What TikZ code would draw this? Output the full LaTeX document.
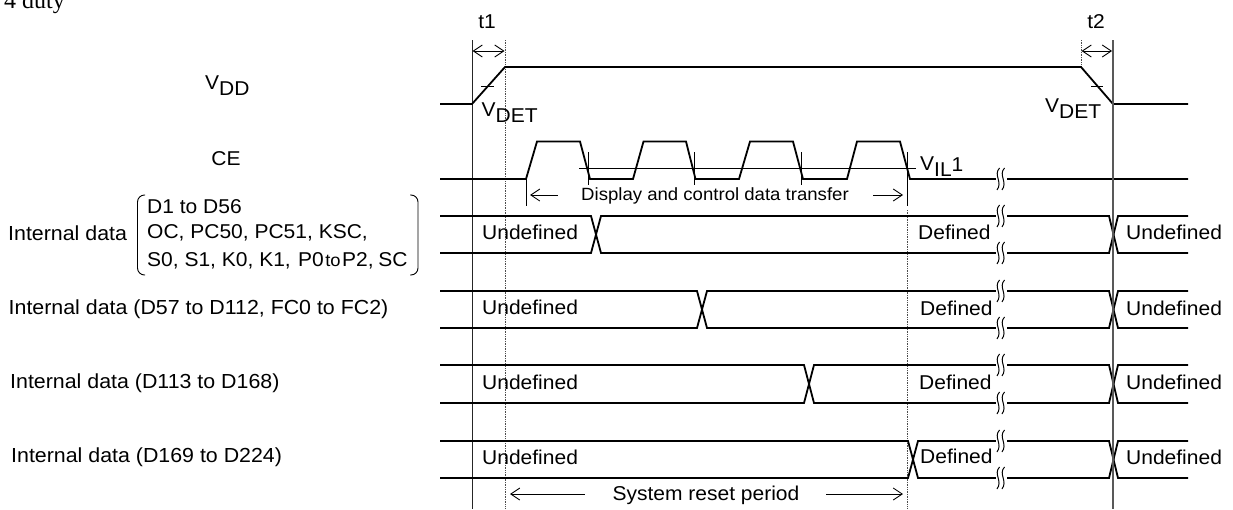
\documentclass[tikz,border=0pt]{standalone}
\usepackage{fontspec}
\setmainfont{Liberation Sans}[FakeStretch=1.05]
\newfontfamily\timesfont{Liberation Serif}
\usetikzlibrary{arrows.meta}
\tikzset{
  x=1pt,y=-1pt,
  wave/.style={line width=1.8pt,black},
  thinline/.style={line width=0.9pt,black},
  guide/.style={line width=1pt,black!85},
  guidebold/.style={line width=1.9pt,black!65},
  dots/.style={line width=0.7pt,black!70,densely dotted},
  dim/.style={line width=0.9pt,black,{Straight Barb[length=9pt,width=12pt]}-{Straight Barb[length=9pt,width=12pt]}},
  darrL/.style={line width=0.9pt,black,{Straight Barb[length=9pt,width=12pt]}-},
  darrR/.style={line width=0.9pt,black,-{Straight Barb[length=9pt,width=12pt]}},
  txt/.style={inner sep=0pt,font=\fontsize{20}{22}\selectfont},
  txtW/.style={txt,anchor=west},
  rowlabel/.style={inner sep=0pt,anchor=west,font=\fontsize{20.35}{22}\selectfont},
  small/.style={inner sep=0pt,font=\fontsize{17.7}{20}\selectfont},
}
\newcommand{\brk}[2]{%
  \fill[white] (#1-2,#2-3) rectangle (#1+8.5,#2+3);
  \draw[line width=1pt] (#1+1.5,#2-11) .. controls (#1-5,#2-4) and (#1+5,#2+3) .. (#1-1,#2+11);
  \draw[line width=1pt] (#1+6.5,#2-11) .. controls (#1,#2-4) and (#1+10,#2+3) .. (#1+4,#2+11);
}
\begin{document}
\begin{tikzpicture}
\useasboundingbox (0,0) rectangle (1233,509);
\clip (0,0) rectangle (1233,509);
\fill[white] (0,0) rectangle (1233,509);

% guides
\coordinate (g1t) at (472,40); \coordinate (g1b) at (472,509);
\coordinate (g2t) at (1113,40); \coordinate (g2b) at (1113,509);
\coordinate (d1t) at (505,40); \coordinate (d1b) at (505,509);
\coordinate (d2t) at (1081,40); \coordinate (d2b) at (1081,67);
\coordinate (d3t) at (907,210); \coordinate (d3b) at (907,509);
\draw[guide] (g1t) -- (g1b);
\draw[dots] (d1t) -- (d1b);
\draw[dots] (d2t) -- (d2b);
\draw[dots] (d3t) -- (d3b);

% VDD
\draw[wave] (440,104) -- (472,104) -- (505,67) -- (1081,67) -- (1113,104) -- (1188,104);
\draw[thinline] (481,86) -- (494,86);
\draw[thinline] (1091,86) -- (1103,86);

% CE
\draw[thinline] (579,168) -- (916,168);
\draw[wave] (440,179) -- (526,179) -- (537,141.5) -- (580,141.5) -- (590,179)
  -- (633,179) -- (643.5,141.5) -- (686,141.5) -- (695.5,179)
  -- (739,179) -- (750,141.5) -- (793,141.5) -- (803,179)
  -- (847,179) -- (857,141.5) -- (900,141.5) -- (910,179)
  -- (1188,179);
\foreach \x in {588,694,801} \draw[thinline] (\x,152) -- (\x,185);
\draw[thinline] (907,152) -- (907,206);
\draw[thinline] (526,179) -- (526,206);
\brk{998}{179}

% data rows
\foreach \t/\b/\cx in {216/253/591, 291/328/697, 365/403/804, 441/478/908}{
  \draw[wave] (440,\t) -- (\cx,\t) -- (\cx+10,\b) -- (1109,\b) -- (1118,\t) -- (1188,\t);
  \draw[wave] (440,\b) -- (\cx,\b) -- (\cx+10,\t) -- (1109,\t) -- (1118,\b) -- (1188,\b);
  \brk{998}{\t}
  \brk{998}{\b}
}
\draw[guidebold] (g2t) -- (g2b);

% dimension arrows
\coordinate (a1) at (472.5,51); \coordinate (a2) at (504.5,51);
\draw[dim] (a1) -- (a2);
\coordinate (a3) at (1081.5,51); \coordinate (a4) at (1112,51);
\draw[dim] (a3) -- (a4);
\coordinate (a5) at (530,195); \coordinate (a6) at (558,195);
\draw[darrL] (a5) -- (a6);
\coordinate (a7) at (873,195); \coordinate (a8) at (903,195);
\draw[darrR] (a7) -- (a8);
\coordinate (a9) at (510,494); \coordinate (a10) at (585,494);
\draw[darrL] (a9) -- (a10);
\coordinate (a11) at (826,494); \coordinate (a12) at (903,494);
\draw[darrR] (a11) -- (a12);

% labels
\node[anchor=base west,inner sep=0pt,font=\timesfont\fontsize{24}{26}\selectfont] (duty) at (4,8) {4 duty};
\node[txt] (t1) at (487,22) {t1};
\node[txt] (t2) at (1096,22) {t2};
\node[txt,anchor=base west] (vdd) at (205,95) {\raisebox{6pt}{V}DD};
\node[txt,anchor=base west] (vdet1) at (481.5,122) {\raisebox{6pt}{V}DET};
\node[txt,anchor=base west] (vdet2) at (1045,118) {\raisebox{6pt}{V}DET};
\node[txt,anchor=base west] (vil) at (920,176) {\raisebox{6pt}{V}IL\raisebox{5pt}{1}};
\node[txt] (ce) at (226,159) {CE};
\node[small,anchor=base west] (xfer) at (581,200) {Display and control data transfer};
\node[txt] (reset) at (706,495) {System reset period};

\node[rowlabel] (l1) at (8,233) {Internal data};
\node[txtW] (l1a) at (147,207) {D1 to D56};
\node[txtW] (l1b) at (147,233) {OC, PC50, PC51, KSC,};
\node[txtW] (l1c) at (147,261) {S0, S1, K0, K1,\kern1.5pt{} P0\kern1.5pt{\fontsize{17.5}{18}\selectfont to}\kern1.5pt{}P2,\kern-1pt{} SC};
\node[rowlabel] (l2) at (8.5,309) {Internal data (D57 to D112, FC0 to FC2)};
\node[rowlabel] (l3) at (10,383) {Internal data (D113 to D168)};
\node[rowlabel] (l4) at (11,457) {Internal data (D169 to D224)};

\coordinate (bl1) at (145,195); \coordinate (bl2) at (145,275);
\coordinate (br1) at (410,195); \coordinate (br2) at (410,275);
\draw[thinline,rounded corners=7pt] (bl1) -- (137.5,195) -- (137.5,275) -- (bl2);
\draw[thinline,rounded corners=7pt] (br1) -- (418,195) -- (418,275) -- (br2);

\foreach \n/\ya/\xb/\yb/\xc/\yc in {1/232/918/232/1126/232, 2/307/920/308/1126/308, 3/382/919/382/1126/382, 4/457/920/456/1126/457}{
  \node[txtW] (u\n) at (482,\ya) {Undefined};
  \node[txtW] (f\n) at (\xb,\yb) {Defined};
  \node[txtW] (v\n) at (\xc,\yc) {Undefined};
}
\end{tikzpicture}
\end{document}
